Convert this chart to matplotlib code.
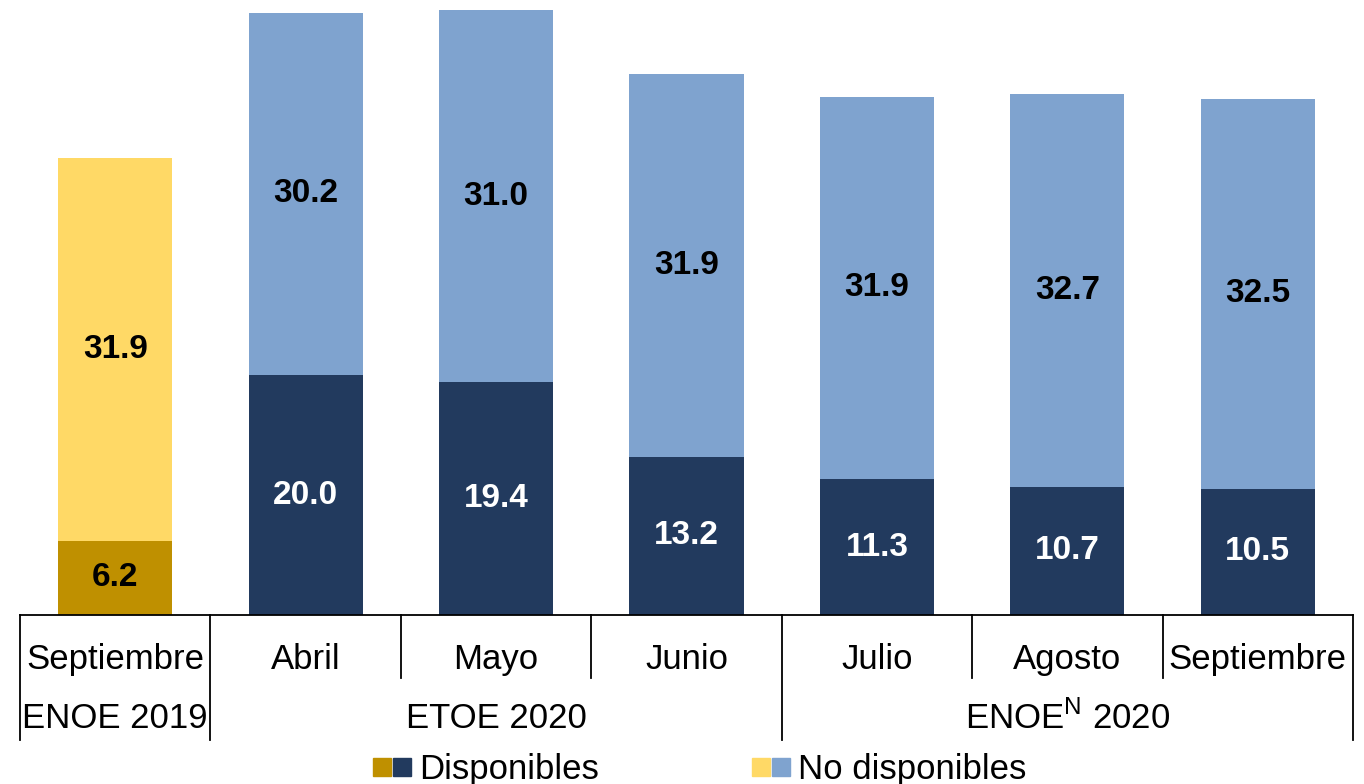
import matplotlib.pyplot as plt
import matplotlib.transforms as mtransforms
from matplotlib.patches import Rectangle
import numpy as np

plt.rcParams['font.family'] = ['Liberation Sans', 'DejaVu Sans']
plt.rcParams['mathtext.fontset'] = 'custom'
plt.rcParams['mathtext.rm'] = 'Liberation Sans'

# Data
months = ['Septiembre', 'Abril', 'Mayo', 'Junio', 'Julio', 'Agosto', 'Septiembre']
disponibles = [6.2, 20.0, 19.4, 13.2, 11.3, 10.7, 10.5]
no_disponibles = [31.9, 30.2, 31.0, 31.9, 31.9, 32.7, 32.5]
groups = ['ENOE 2019', 'ETOE 2020', r'ENOE$^{\mathrm{N}}$ 2020']
group_spans = [(0, 0), (1, 3), (4, 6)]

# Colors: 2019 bar uses gold/yellow, 2020 bars navy/light blue
dark_2019, light_2019 = '#BF9000', '#FFD966'
dark_2020, light_2020 = '#223A5E', '#7FA3CF'

fig = plt.figure(figsize=(13.64, 7.84), dpi=100)
ax = fig.add_axes([20 / 1364, 169 / 784, 1333 / 1364, 615 / 784])

x = np.arange(len(months))
dark_colors = [dark_2019] + [dark_2020] * (len(months) - 1)
light_colors = [light_2019] + [light_2020] * (len(months) - 1)

ax.bar(x, disponibles, width=0.6, color=dark_colors)
ax.bar(x, no_disponibles, width=0.6, bottom=disponibles, color=light_colors)

# Value labels in the middle of each segment
for i in range(len(months)):
    d = disponibles[i]
    n = no_disponibles[i]
    ax.text(x[i], d / 2, f'{d:.1f}', ha='center', va='center', fontsize=24,
            fontweight='bold', color='black' if i == 0 else 'white')
    ax.text(x[i], d + n / 2, f'{n:.1f}', ha='center', va='center', fontsize=24,
            fontweight='bold', color='black')

ax.set_xlim(-0.5, len(months) - 0.5)
ax.set_ylim(0, 51.25)
ax.set_yticks([])
ax.set_xticks([])
for s in ['top', 'right', 'left']:
    ax.spines[s].set_visible(False)
ax.spines['bottom'].set_linewidth(1.3)

# Category axis: separators, month labels, group labels
trans = mtransforms.blended_transform_factory(ax.transData, ax.transAxes)
group_edges = [-0.5] + [hi + 0.5 for lo, hi in group_spans]
for k in range(len(months) + 1):
    xe = k - 0.5
    bottom = -0.203 if xe in group_edges else -0.1024
    ax.plot([xe, xe], [0, bottom], color='black', lw=1.3, transform=trans, clip_on=False)

for i, m in enumerate(months):
    ax.text(x[i], -0.072, m, ha='center', va='center', fontsize=25, transform=trans)

for g, (lo, hi) in zip(groups, group_spans):
    ax.text((lo + hi) / 2, -0.168, g, ha='center', va='center', fontsize=25, transform=trans)

# Legend with paired color squares
def legend_entry(x0, colors, label):
    w, h = 18 / 1364, 18 / 784
    yc = (784 - 767) / 784
    for j, c in enumerate(colors):
        fig.patches.append(Rectangle((x0 + j * 20 / 1364, yc - h / 2), w, h,
                                     transform=fig.transFigure, color=c))
    fig.text(x0 + 46 / 1364, yc - 2 / 784, label, ha='left', va='center', fontsize=25)

legend_entry(373 / 1364, [dark_2019, dark_2020], 'Disponibles')
legend_entry(752 / 1364, [light_2019, light_2020], 'No disponibles')

plt.savefig('out.png', dpi=100)
